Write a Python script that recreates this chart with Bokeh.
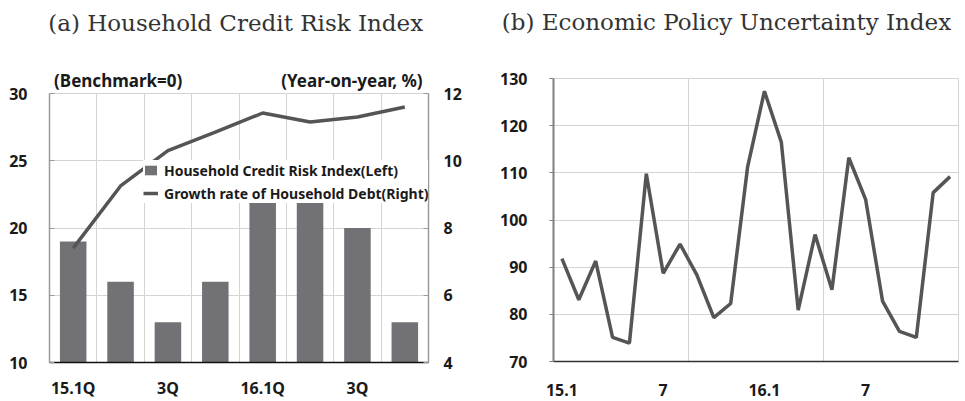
from bokeh.plotting import figure
from bokeh.layouts import row
from bokeh.models import (Range1d, LinearAxis, FixedTicker, Legend,
                          LegendItem, ColumnDataSource)
from bokeh.embed import file_html
from bokeh.resources import INLINE

# ---------------- data ----------------
quarters = ["15.1Q", "15.2Q", "15.3Q", "15.4Q", "16.1Q", "16.2Q", "16.3Q", "16.4Q"]
quarter_tick_labels = ["15.1Q", "", "3Q", "", "16.1Q", "", "3Q", ""]
risk_index = [19, 16, 13, 16, 22, 22, 20, 13]
debt_growth = [7.4, 9.25, 10.3, 10.85, 11.42, 11.15, 11.3, 11.6]
risk_ticks = [10, 15, 20, 25, 30]
growth_ticks = [4, 6, 8, 10, 12]
unit_notes = ["(Benchmark=0)", "(Year-on-year,  %)"]
unit_note_pos = [0.95, 5.93]      # centre of each note, in category units

months = ["15.1", "15.2", "15.3", "15.4", "15.5", "15.6", "15.7", "15.8",
          "15.9", "15.10", "15.11", "15.12", "16.1", "16.2", "16.3", "16.4",
          "16.5", "16.6", "16.7", "16.8", "16.9", "16.10", "16.11", "16.12"]
epu_values = [91.8, 83.1, 91.3, 75.1, 73.9, 109.8, 88.7, 94.9, 88.3, 79.3,
              82.3, 111.2, 127.3, 116.5, 80.9, 96.9, 85.2, 113.2, 104.3, 82.8,
              76.4, 75.1, 105.8, 109.2]
epu_tick_months = ["15.1", "15.7", "16.1", "16.7"]
epu_tick_labels = ["15.1", "7", "16.1", "7"]
epu_ticks = [70, 80, 90, 100, 110, 120, 130]

panel_titles = ["(a) Household Credit Risk Index", "(b) Economic Policy Uncertainty Index"]
title_pos_a = 3.43    # title centre, category units of panel (a)
title_pos_b = 9.75    # title centre, month units of panel (b)

SANS = "Noto Sans"
SERIF = "DejaVu Serif"
BAR = "#727276"
LINE = "#555555"
GRID = "#d4d4d4"
TXT = "#1a1a1a"


def style_axis(ax, standoff, size="16px", font=SANS, bold=True, color=TXT):
    ax.major_label_text_font = font
    ax.major_label_text_font_style = "bold" if bold else "normal"
    ax.major_label_text_font_size = size
    ax.major_label_text_color = color
    ax.major_label_standoff = standoff
    ax.minor_tick_line_color = None


def text_axis(ticks, labels, standoff, size, font, bold, color):
    ax = LinearAxis(ticker=FixedTicker(ticks=ticks),
                    major_label_overrides=dict(zip(ticks, labels)))
    style_axis(ax, standoff, size, font, bold, color)
    ax.axis_line_color = None
    ax.major_tick_line_color = None
    return ax


# ---------------- panel (a) ----------------
qx = list(range(len(quarters)))
src_a = ColumnDataSource(dict(x=qx, risk=risk_index, growth=debt_growth))

p1 = figure(width=480, height=401, x_range=Range1d(-0.5, len(quarters) - 0.5),
            y_range=Range1d(risk_ticks[0], risk_ticks[-1]),
            output_backend="svg", toolbar_location=None, title_location=None,
            min_border_left=49, min_border_right=52, min_border_top=93,
            min_border_bottom=39, frame_align=False)
p1.background_fill_color = "white"
p1.border_fill_color = "white"
p1.outline_line_color = GRID
p1.extra_y_ranges = {"growth": Range1d(growth_ticks[0], growth_ticks[-1])}

bars = p1.vbar(x="x", top="risk", bottom=risk_ticks[0], width=0.56, source=src_a,
               fill_color=BAR, line_color=None)
ln = p1.line(x="x", y="growth", source=src_a, y_range_name="growth",
             line_color=LINE, line_width=3.5)

xa = p1.xaxis[0]
xa.ticker = FixedTicker(ticks=qx[::2])
xa.major_label_overrides = {i: quarter_tick_labels[i] for i in qx[::2]}
style_axis(xa, 8)
xa.major_tick_line_color = None
xa.axis_line_color = "#111111"
xa.axis_line_width = 1.5

ya = p1.yaxis[0]
ya.ticker = FixedTicker(ticks=risk_ticks)
style_axis(ya, 22)
ya.axis_line_color = "#9a9a9a"
ya.axis_line_width = 1.5
ya.major_tick_in = 5
ya.major_tick_out = 0
ya.major_tick_line_color = "#9a9a9a"

ra = LinearAxis(y_range_name="growth", ticker=FixedTicker(ticks=growth_ticks))
style_axis(ra, 15)
ra.axis_line_color = "#9a9a9a"
ra.axis_line_width = 1.5
ra.major_tick_in = 5
ra.major_tick_out = 0
ra.major_tick_line_color = "#9a9a9a"
p1.add_layout(ra, "right")

# unit notes (nearest to the frame), then the panel title above them
p1.add_layout(text_axis(unit_note_pos, unit_notes, -4, "17px", SANS, True, TXT), "above")
p1.add_layout(text_axis([title_pos_a], [panel_titles[0]], 24, "23px", SERIF, False,
                        "#333333"), "above")

p1.xgrid.ticker = FixedTicker(ticks=[i + 0.5 for i in qx[:-1]])
p1.xgrid.grid_line_color = GRID
p1.ygrid.ticker = FixedTicker(ticks=risk_ticks)
p1.ygrid.grid_line_color = GRID

leg = Legend(items=[LegendItem(label="Household Credit Risk Index(Left)", renderers=[bars]),
                    LegendItem(label="Growth rate of Household Debt(Right)", renderers=[ln])],
             location=(94, 159), orientation="vertical",
             label_text_font=SANS, label_text_font_style="bold",
             label_text_font_size="14px", label_text_color=TXT,
             glyph_width=15, glyph_height=12, label_height=20, label_standoff=6,
             spacing=3, padding=0, margin=0,
             background_fill_color="white", background_fill_alpha=1.0,
             border_line_color=None)
p1.add_layout(leg, "center")

# ---------------- panel (b) ----------------
mx = list(range(len(months)))
src_b = ColumnDataSource(dict(x=mx, epu=epu_values))

p2 = figure(width=485, height=401, x_range=Range1d(-0.5, len(months) - 0.5),
            y_range=Range1d(epu_ticks[0], epu_ticks[-1]),
            output_backend="svg", toolbar_location=None, title_location=None,
            min_border_left=73, min_border_right=7, min_border_top=78,
            min_border_bottom=40, frame_align=False)
p2.background_fill_color = "white"
p2.border_fill_color = "white"
p2.outline_line_color = GRID

p2.line(x="x", y="epu", source=src_b, line_color=LINE, line_width=3.5)

tick_idx = [months.index(m) for m in epu_tick_months]
xb = p2.xaxis[0]
xb.ticker = FixedTicker(ticks=tick_idx)
xb.major_label_overrides = {i: lab for i, lab in zip(tick_idx, epu_tick_labels)}
style_axis(xb, 16)
xb.major_tick_line_color = None
xb.axis_line_color = "#333333"
xb.axis_line_width = 1.5

yb = p2.yaxis[0]
yb.ticker = FixedTicker(ticks=epu_ticks)
style_axis(yb, 22)
yb.axis_line_color = "#808080"
yb.axis_line_width = 2
yb.major_tick_in = 0
yb.major_tick_out = 4
yb.major_tick_line_color = "#808080"

p2.add_layout(text_axis([title_pos_b], [panel_titles[1]], 38, "23px", SERIF, False,
                        "#333333"), "above")

p2.xgrid.ticker = FixedTicker(ticks=[7.5, 15.5])
p2.xgrid.grid_line_color = GRID
p2.ygrid.ticker = FixedTicker(ticks=epu_ticks)
p2.ygrid.grid_line_color = GRID

layout = row(p1, p2)
open("out.html", "w").write(file_html(layout, INLINE))
